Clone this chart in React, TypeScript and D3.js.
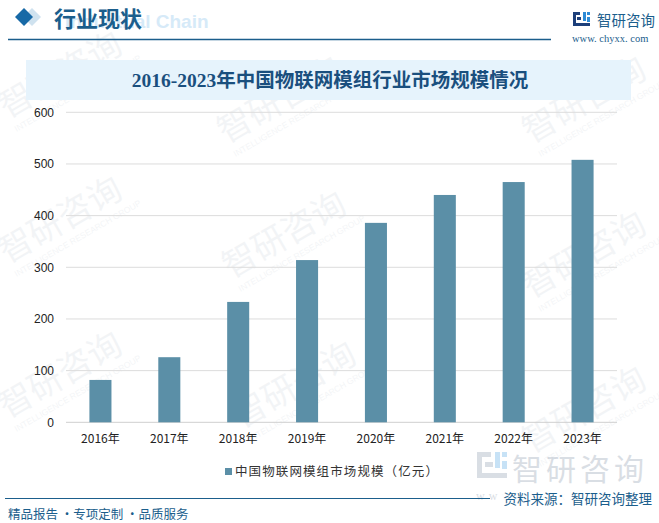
import React from "react";
import * as d3 from "d3";

const years = ["2016年", "2017年", "2018年", "2019年", "2020年", "2021年", "2022年", "2023年"];
const marketSize = [82, 126, 233, 314, 386, 440, 465, 508];
const yTicks = [0, 100, 200, 300, 400, 500, 600];
const chartTitle = "2016-2023年中国物联网模组行业市场规模情况";
const seriesName = "中国物联网模组市场规模（亿元）";

const W = 659;
const H = 523;
const plot = { left: 66, right: 617, top: 112.3, bottom: 422.3 };
const barColor = "#5b8fa7";
const blue = "#1b5e8c";
const cjk = "'Noto Sans CJK SC', 'Liberation Sans', sans-serif";

export default function App() {
  const x = d3.scaleBand<string>().domain(years).range([plot.left, plot.right]).paddingInner(0.68).paddingOuter(0.34);
  const y = d3.scaleLinear().domain([0, 600]).range([plot.bottom, plot.top]);

  const wm = [
    [66, 85], [285, 110], [590, 110], [66, 230], [290, 245], [590, 265], [66, 385], [300, 395], [590, 420],
  ];

  return (
    <svg width={W} height={H} style={{ position: "absolute", left: 0, top: 0, background: "#fff" }}>
      <rect x={0} y={0} width={W} height={H} fill="#fff" />
      {/* watermarks */}
      {wm.map(([wx, wy], i) => (
        <g key={i} transform={`translate(${wx},${wy}) rotate(-30)`} opacity={0.05}>
          <text x={0} y={0} fontFamily={cjk} fontSize={34} fill="#1b3f6b" textAnchor="middle">智研咨询</text>
          <text x={6} y={16} fontFamily="'Liberation Sans', sans-serif" fontSize={8.5} fill="#1b3f6b" textAnchor="middle">INTELLIGENCE RESEARCH GROUP</text>
        </g>
      ))}

      {/* header */}
      <path d="M24,8 L33,17 L24,26 L15,17 Z" fill="#cfe2ef" transform="translate(8,0)" />
      <path d="M24,8 L33,17 L24,26 L15,17 Z" fill="#1769a6" />
      <text x={65} y={28} fontFamily="'Liberation Sans', sans-serif" fontWeight="bold" fontSize={19} fill="#d6eaf8">Industrial Chain</text>
      <text x={54} y={27} fontFamily={cjk} fontWeight="bold" fontSize={22} fill={blue}>行业现状</text>
      <line x1={8} x2={551} y1={39.5} y2={39.5} stroke="#1b5e8c" strokeWidth={1.5} />

      {/* logo top right */}
      <g transform="translate(573,12)">
        <rect x={0} y={0} width={7} height={3} fill="#1d3f7a" />
        <rect x={0} y={0} width={3} height={14} fill="#1d3f7a" />
        <rect x={4} y={5} width={4} height={3} fill="#1d3f7a" />
        <rect x={0} y={11} width={17} height={3} fill="#1d3f7a" />
        <rect x={10} y={0} width={3} height={9} fill="#2e8bd6" />
        <rect x={14} y={0} width={3} height={3} fill="#2e8bd6" />
        <rect x={14} y={5} width={3} height={5} fill="#2e8bd6" />
      </g>
      <text x={597} y={26} fontFamily={cjk} fontSize={14.5} fill={blue}>智研咨询</text>
      <text x={572} y={42} fontFamily="'Liberation Serif', serif" fontSize={10.5} fill={blue}>www. chyxx. com</text>

      {/* title band */}
      <rect x={26} y={60} width={605} height={40} fill="#e6f3fc" />
      <text x={330} y={87} textAnchor="middle" fontFamily="'Liberation Serif', 'Noto Sans CJK SC', serif" fontWeight="bold" fontSize={19.5} fill="#1a4f7e">{chartTitle}</text>

      {/* grid */}
      {yTicks.map((t) => (
        <g key={t}>
          <line x1={plot.left} x2={plot.right} y1={y(t)} y2={y(t)} stroke={t === 0 ? "#cfcfcf" : "#dcdcdc"} strokeWidth={1} />
          <text x={54} y={y(t) + 4.5} textAnchor="end" fontFamily="'Liberation Sans', sans-serif" fontSize={12} fill="#222">{t}</text>
        </g>
      ))}

      {/* bars */}
      {years.map((yr, i) => (
        <rect key={yr} x={x(yr)} y={y(marketSize[i])} width={x.bandwidth()} height={plot.bottom - y(marketSize[i])} fill={barColor} />
      ))}

      {/* x labels */}
      {years.map((yr) => (
        <text key={yr} x={(x(yr) as number) + x.bandwidth() / 2} y={443} textAnchor="middle" fontFamily={cjk} fontSize={12} fill="#222">{yr}</text>
      ))}

      {/* legend */}
      <rect x={225} y={468} width={7} height={7} fill={barColor} />
      <text x={235} y={476} fontFamily={cjk} fontSize={12.5} fill="#333" letterSpacing={1.1}>{seriesName}</text>

      {/* bottom-right watermark logo */}
      <g opacity={0.28}>
        <g transform="translate(477,452)">
          <rect x={0} y={0} width={14} height={5} fill="#7a8aa0" />
          <rect x={0} y={0} width={5} height={26} fill="#7a8aa0" />
          <rect x={8} y={10} width={8} height={5} fill="#7a8aa0" />
          <rect x={0} y={21} width={30} height={5} fill="#7a8aa0" />
          <rect x={18} y={0} width={5} height={16} fill="#3b9be0" />
          <rect x={25} y={0} width={5} height={5} fill="#3b9be0" />
          <rect x={25} y={9} width={5} height={8} fill="#3b9be0" />
        </g>
        <text x={512} y={480} fontFamily={cjk} fontSize={30} fill="#7a8aa0" letterSpacing={4}>智研咨询</text>
        <text x={476} y={500} fontFamily="'Liberation Serif', serif" fontSize={12} fill="#7a8aa0" letterSpacing={4}>www.chyxx.com</text>
      </g>

      {/* footer */}
      <line x1={5} x2={490} y1={498.5} y2={498.5} stroke="#1b5e8c" strokeWidth={1.2} />
      <rect x={500} y={490} width={159} height={17} fill="#fff" opacity={0.85} />
      <text x={652} y={504} textAnchor="end" fontFamily={cjk} fontSize={13.5} fill={blue}>资料来源：智研咨询整理</text>
      <text x={8} y={519} fontFamily={cjk} fontSize={12.5} fill={blue}>精品报告 ·专项定制 ·品质服务</text>
    </svg>
  );
}
